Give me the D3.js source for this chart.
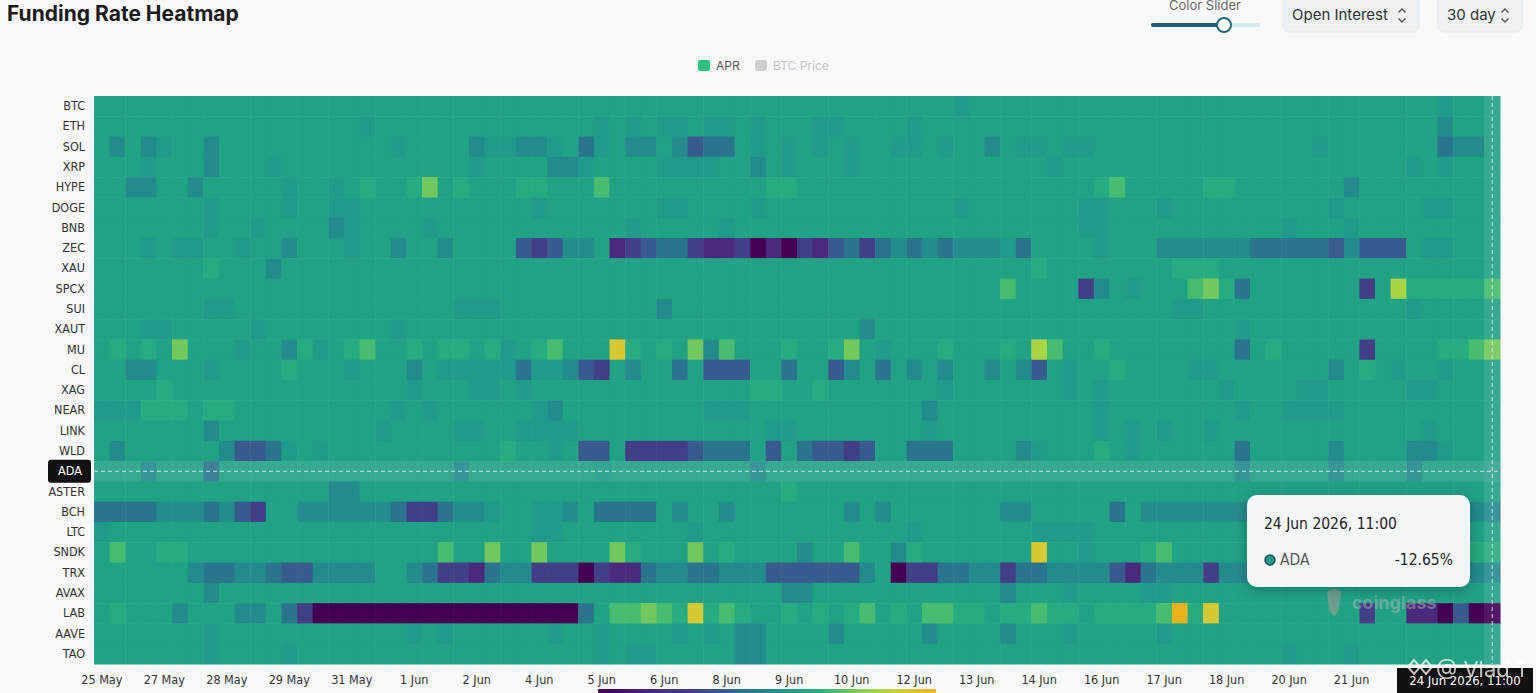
<!DOCTYPE html>
<html>
<head>
<meta charset="utf-8">
<script src="https://cdn.jsdelivr.net/npm/d3@7"></script>
<style>
  body { margin: 0; background: #f8f8f8; overflow: hidden; }
  svg { display: block; font-family: Inter, "Noto Sans", sans-serif; }
  .cond { font-family: "DejaVu Sans Condensed", "DejaVu Sans", sans-serif; font-stretch: condensed; }
</style>
</head>
<body>
<svg id="chart" width="1536" height="693"></svg>
<script>
// assets, top to bottom
const assets = ["BTC", "ETH", "SOL", "XRP", "HYPE", "DOGE", "BNB", "ZEC", "XAU", "SPCX", "SUI", "XAUT", "MU", "CL",
  "XAG", "NEAR", "LINK", "WLD", "ADA", "ASTER", "BCH", "LTC", "SNDK", "TRX", "AVAX", "LAB", "AAVE", "TAO"];

// 8h funding intervals, first column 25 May 2026 19:00, 90 columns
const startTime = new Date(2026, 4, 25, 19, 0);
const columnCount = 90;
const tickEvery = 4;

// APR level read from each cell (a = most negative ... n = most positive)
const levelCodes = ["a", "b", "c", "d", "e", "f", "g", "h", "i", "j", "k", "l", "m", "n"];
const levelApr = [-300, -220, -160, -110, -70, -35, -10, 10, 35, 60, 90, 130, 170, 220];

// one string per asset, 90 cells each (groups of 10)
const aprRows = [
  "hhhhhhhhhh hhhhhhhhhh hhhhhhhhhh hhhhhhhhhh hhhhhhhhhh hhhhhghhhh hhhhhhhhhh hhhhhhhhhh hhhhhhghhh", // BTC
  "hhhhhhhhhh hhhhhhhghh hhhhhhhhhh hhghghgghg ghghhhgghh hhghhhhhhh hhhhhhhhhh hhhhhhhhhh hhhhhhfhhh", // ETH
  "hfhfghhfhh hhhhhhhhhg hhhhfggffg heghffhfde ehghghghgh hgghghhfhg ghgghhhhhh hhhhhhhhgh hhhhhheffh", // SOL
  "hhhghhhfhh hghhhhhhhh hhhhghhhhf fghhhhgggg hhfhghhhgh hhhhhhhhhh hghhhhhhhh hhhhhhhhhh hhhhghghhh", // XRP
  "hhffhhfhhh hhghhghihh ikhihhhiih hhjhhhhhhh hhhiihhhhh hhhhhhhhhh hhhhijhhhh hiihhhhhhh fhhhhhhhhh", // HYPE
  "hhhhhhhghh hhghhgghhh hhhhhhhhgh hhhhhhgghh hhghhhhhhh hhhhhghhhh hhhgghhhgh hhhhhhhhhg hhhhhgghhh", // DOGE
  "hhhhhhhghh ghhhhfghhh hghhhhhhhh hhhhghhhhh ghhhhhhhhh hhhhhhhhhh hhhgghhhhh hhhhhhghhh ghhhhhhhhh", // BNB
  "hhhghgghhg hhfhhhghhf hhfhhhhdcd ffhbcdeecb bcabacbdec efefefffge hhhhghhhff ffffeeeeed fdddhgghhh", // ZEC
  "hhhhhhhihh hfhhhhhhhh hhhhhhhhhh hhhhhhhhhh hhhhhhhhhh hhhhhhhhhh ihhhhhhhhi iihhhhhhhh hhhhhhhhhh", // XAU
  "hhhhhhhhhh hhhhhhhhhh hhhhhhhhhh hhhhhhhhhh hhhhhhhhhh hhhhhhhhjh hhhcfhghhh jkiehhhhhh hchliiiiij", // SPCX
  "hhhhhhhggh hhhhhhhhhh hhhggghhhh hhhhhhfhhh hhhhhhhhhh hhhhhhhhhh hhhhhhhhhg ghhhhhhhhh hhhhghhhhh", // SUI
  "hhhgghhhhh ghhhhhhhhg hhhhhhhhhh hhhhhhhhhh hhhhhhhhhf hhhhhhhhhh hhhhhhhhhh hhhghhhhhh hhhhhhhhhh", // XAUT
  "hihihkhhhg hhfighijhh ihiihighij hhhmihihkf jhhhihhikh ghhhihhhih ljhhihhhhh hhhehihhhh hchhhhiijk", // MU
  "hhffhhhghh hhihhhghhh fhgggggegg fdchfhhehd ddhhehhdfh ehfhfhhfhf dhghhihhhh gghhhhhhhf hihghhghhh", // CL
  "hhhhihhhhh hhhhhhhhhh ghhhgghghh hhhhhhhhhh hhiihhihhh hhhhghhhhh hhghghhhhh hhghhhhggh hhhhgghhhh", // XAG
  "gggiiihiih hhhhhhhhhg hghhhhhhgf hhhhhhhhhg gghhhhhhhh hhhfhhhhhh hhhhghhhhh hhhghhgggg hhhhhhhhhh", // NEAR
  "hhhhhhhfhh hhhhhhhhgh hhhgghhggg ghhhhhhhhh hhhgghhhhh hhhghhhhhh hhhhghghgh hghhhhhhhh hhhhhghhhh", // LINK
  "hfhhhhhhfd deghghhhhh hhhhhhihhg hddhccccde eehdheddcd hheeehhhhf ghhhihghhh hhhehhhhhf hhhhffghhh", // WLD
  "hhhfhhhehh hhhhhhhhhh hhhfhhhhhh hhghhhhhhh hhfhhhhhhh hhhhhhhhhh hhhhhhhhhh hhhfhhhhhf hhhhfhhhhg", // ADA
  "hhhhhhhhhh hhhhhffhhh hhhhhhhhhh hhhhhhhhhh hhhhihhhhh hhhhhhhhhh hhhhhhhhhh hhhhhhhhhh hhhhhhhhhh", // ASTER
  "eeeefffefd chhffffffe cceffghhgg fheeeehfhh fhhhhhhhfh fhhhhhhhff hhhhhehfff ffffffgghh hhgghhhhff", // BCH
  "ghhhhhhhhh hhhhhhhhhh hhhhhhhhgg hhhhhhhhgh hhhhhhhhhh hhghhhhhhh gggghhhhhh hhhhhhhhhh hhhhhhhhhh", // LTC
  "hjhhiihhhh hhhhhhhhhh hhjhhkhhkh hhhkihhhkh ihhhhfhhjh hfihhhhhhh mhhghhhijh hhhhhhhhhh hhhhhhhhii", // SNDK
  "hhhhhhfeef feddffffhh feccbeffcc cacbbeffee fffddddddf hacceeffce effffdbeff fcffffffhh hhhhhhhhff", // TRX
  "hhhhhhhfhh hhhhhhhhhh hhhhhhhhhh hhhhhhhhhh hhhhffhhhh hhhhhhhhfh hhghhhhggh hhhhhhhhhh hhhhhhhhhh", // AVAX
  "hihhhfhhhf fhecaaaaaa aaaaaaaaaa aehjjkjimi jihhihihij hihjjiihii jiihiiiijn imhhhhhhhh hchhbbadaa", // LAB
  "hhhhhhhghh hhhhhhhhhh ghghhhhhhg hhghhhhghg hffhhhhfhh hhhfhhhhfh hhghhhhhgh hhhhhhhhhh hhhhhhhhhh", // AAVE
  "hhhhhhhghh hhghhhhhhh hhhhhhhhhh hhghgghhhh hffhhhhhhh hhhhhhhhhh hhhhhhhhhh hhhhhhghhh ghhhhhhhhh"  // TAO
];

// colour ramp of the visual map (APR stops -> colours)
const colorStops = [-300, -220, -160, -110, -70, -35, -10, 10, 35, 60, 90, 130, 170, 220];
const colorRange = ["#440154", "#4a2a7b", "#433f86", "#375b8d", "#2b748e", "#248b8d", "#209b89",
  "#21a285", "#27ab81", "#47bc70", "#72c75d", "#a8d545", "#d6c934", "#eab31e"];

// hovered cell
const hoverAsset = "ADA";
const hoverColumn = 89;
const hoverApr = -12.65;

const times = d3.range(columnCount).map(i => d3.timeHour.offset(startTime, i * 8));

const cells = [];
aprRows.forEach((row, r) => {
  const codes = row.replace(/ /g, "").split("");
  if (codes.length !== columnCount) throw new Error(assets[r] + " has " + codes.length + " cells");
  codes.forEach((ch, c) => {
    cells.push({ asset: assets[r], col: c, apr: levelApr[levelCodes.indexOf(ch)] });
  });
});

const svg = d3.select("#chart");
const plot = { left: 94, right: 1500, top: 96, bottom: 664 };

const x = d3.scaleBand().domain(d3.range(columnCount)).range([plot.left, plot.right]);
const y = d3.scaleBand().domain(assets).range([plot.top, plot.bottom]);
const color = d3.scaleLinear().domain(colorStops).range(colorRange).clamp(true);

// ---- header ----
svg.append("text")
  .attr("x", 7).attr("y", 21)
  .attr("font-size", 21).attr("font-weight", 700).attr("fill", "#1b1b1b")
  .text("Funding Rate Heatmap");

svg.append("text")
  .attr("x", 1205).attr("y", 10).attr("text-anchor", "middle")
  .attr("font-size", 13).attr("fill", "#6b6b6b")
  .text("Color Slider");
svg.append("rect").attr("x", 1151).attr("y", 23).attr("width", 109).attr("height", 4).attr("rx", 2).attr("fill", "#d4e7e9");
svg.append("rect").attr("x", 1151).attr("y", 23).attr("width", 73).attr("height", 4).attr("rx", 2).attr("fill", "#1e5f74");
svg.append("circle").attr("cx", 1224).attr("cy", 25).attr("r", 7)
  .attr("fill", "#fff").attr("stroke", "#1f6a80").attr("stroke-width", 2);

function selectButton(x0, w, label) {
  const g = svg.append("g");
  g.append("rect").attr("x", x0).attr("y", -6).attr("width", w).attr("height", 38).attr("rx", 6)
    .attr("fill", "#eef1f3").attr("stroke", "#e5e8eb");
  g.append("text").attr("x", x0 + 9).attr("y", 20).attr("font-size", 15).attr("fill", "#333").text(label);
  const cx = x0 + w - 17;
  g.append("path").attr("d", `M${cx - 3.5},12.5 l3.5,-3.5 l3.5,3.5 M${cx - 3.5},18.5 l3.5,3.5 l3.5,-3.5`)
    .attr("fill", "none").attr("stroke", "#555").attr("stroke-width", 1.4);
}
selectButton(1283, 136, "Open Interest");
selectButton(1438, 84, "30 day");

// ---- legend ----
const legend = svg.append("g").attr("font-size", 12);
legend.append("rect").attr("x", 698).attr("y", 60).attr("width", 12).attr("height", 11).attr("rx", 2).attr("fill", "#2ec07f");
legend.append("text").attr("x", 716).attr("y", 70).attr("fill", "#555").text("APR");
legend.append("rect").attr("x", 755).attr("y", 60).attr("width", 12).attr("height", 11).attr("rx", 2).attr("fill", "#cfcfcf");
legend.append("text").attr("x", 773).attr("y", 70).attr("fill", "#c4c4c4").text("BTC Price");

// ---- heatmap cells ----
svg.append("g")
  .selectAll("rect")
  .data(cells)
  .join("rect")
  .attr("x", d => x(d.col))
  .attr("y", d => y(d.asset))
  .attr("width", x.bandwidth() + 0.5)
  .attr("height", y.bandwidth() + 0.5)
  .attr("fill", d => color(d.apr));

// hover highlight (row + column) and axis pointer lines
svg.append("rect")
  .attr("x", plot.left).attr("y", y(hoverAsset))
  .attr("width", plot.right - plot.left).attr("height", y.bandwidth())
  .attr("fill", "#fff").attr("opacity", 0.09);
svg.append("rect")
  .attr("x", x(hoverColumn)).attr("y", plot.top)
  .attr("width", x.bandwidth()).attr("height", plot.bottom - plot.top)
  .attr("fill", "#fff").attr("opacity", 0.09);
svg.append("line")
  .attr("x1", plot.left).attr("x2", plot.right)
  .attr("y1", y(hoverAsset) + y.bandwidth() / 2).attr("y2", y(hoverAsset) + y.bandwidth() / 2)
  .attr("stroke", "#e4f3ee").attr("stroke-dasharray", "4,3").attr("opacity", 0.85);
svg.append("line")
  .attr("x1", x(hoverColumn) + x.bandwidth() / 2).attr("x2", x(hoverColumn) + x.bandwidth() / 2)
  .attr("y1", plot.top).attr("y2", plot.bottom)
  .attr("stroke", "#e4f3ee").attr("stroke-dasharray", "4,3").attr("opacity", 0.85);

// ---- axes ----
const yAxis = svg.append("g")
  .attr("class", "cond")
  .attr("transform", `translate(${plot.left},0)`)
  .call(d3.axisLeft(y).tickSize(0).tickPadding(9));
yAxis.select(".domain").remove();
yAxis.selectAll("text").attr("font-size", 12.5).attr("fill", "#333").attr("font-family", null);
yAxis.selectAll(".tick").filter(d => d === hoverAsset).each(function () {
  const t = d3.select(this);
  t.insert("rect", "text").attr("x", -46).attr("y", -11.5).attr("width", 43).attr("height", 23).attr("rx", 3).attr("fill", "#111");
  t.select("text").attr("fill", "#fff").attr("x", -24).attr("text-anchor", "middle");
});

const fmtTick = d3.timeFormat("%-d %b");
const xAxis = svg.append("g")
  .attr("class", "cond")
  .attr("transform", `translate(0,${plot.bottom})`)
  .call(d3.axisBottom(x)
    .tickSize(0).tickPadding(11)
    .tickValues(d3.range(0, columnCount, tickEvery))
    .tickFormat(i => fmtTick(times[i])));
xAxis.select(".domain").remove();
xAxis.selectAll("text").attr("font-size", 12.5).attr("fill", "#333").attr("font-family", null);

// axis pointer label
const fmtFull = d3.timeFormat("%-d %b %Y, %H:%M");
svg.append("rect").attr("x", 1397).attr("y", 668).attr("width", 136).attr("height", 25).attr("fill", "#111");
svg.append("text").attr("class", "cond")
  .attr("x", 1465).attr("y", 685).attr("text-anchor", "middle")
  .attr("font-size", 13).attr("fill", "#fff")
  .text(fmtFull(times[hoverColumn]));

// visual map bar (mostly below the fold)
const defs = svg.append("defs");
const grad = defs.append("linearGradient").attr("id", "vm");
colorStops.forEach((s, i) => {
  grad.append("stop")
    .attr("offset", (s - colorStops[0]) / (colorStops[colorStops.length - 1] - colorStops[0]))
    .attr("stop-color", colorRange[i]);
});
svg.append("rect").attr("x", 598).attr("y", 689).attr("width", 338).attr("height", 10).attr("fill", "url(#vm)");

// watermark
const wm = svg.append("g").attr("opacity", 0.45);
wm.append("path")
  .attr("d", "M1327,592 q7,-6 14,0 l-2,18 l-5,6 l-5,-6 z")
  .attr("fill", "#c99a9a");
wm.append("text").attr("x", 1352).attr("y", 609)
  .attr("font-size", 18).attr("font-weight", 700).attr("fill", "#b9b9b9")
  .text("coinglass");

// ---- tooltip ----
const shadow = defs.append("filter").attr("id", "shadow").attr("x", "-30%").attr("y", "-30%").attr("width", "160%").attr("height", "170%");
shadow.append("feDropShadow").attr("dx", 0).attr("dy", 3).attr("stdDeviation", 7)
  .attr("flood-color", "#000").attr("flood-opacity", 0.28);

const tip = svg.append("g").attr("transform", "translate(1247,495)");
tip.append("rect").attr("width", 223).attr("height", 92).attr("rx", 10)
  .attr("fill", "#f4f6f8").attr("filter", "url(#shadow)");
tip.append("text").attr("class", "cond").attr("x", 17).attr("y", 34)
  .attr("font-size", 15.5).attr("fill", "#222")
  .text(fmtFull(times[hoverColumn]));
tip.append("circle").attr("cx", 23).attr("cy", 65).attr("r", 5)
  .attr("fill", color(hoverApr)).attr("stroke", "#1d4f56").attr("stroke-width", 1.5);
tip.append("text").attr("class", "cond").attr("x", 33).attr("y", 70)
  .attr("font-size", 15.5).attr("fill", "#555").text(hoverAsset);
tip.append("text").attr("class", "cond").attr("x", 206).attr("y", 70).attr("text-anchor", "end")
  .attr("font-size", 15.5).attr("fill", "#222")
  .text(hoverApr.toFixed(2) + "%");

// corner signature watermark
const sig = svg.append("g").attr("opacity", 0.75).attr("fill", "#fff");
sig.append("path").attr("d", "M1408,667 l6,-7 l6,7 l-6,7 z M1420,667 l6,-7 l6,7 l-6,7 z")
  .attr("fill", "none").attr("stroke", "#fff").attr("stroke-width", 2);
sig.append("text").attr("x", 1436).attr("y", 677).attr("font-size", 22).text("@ Vlad 1");
</script>
</body>
</html>
